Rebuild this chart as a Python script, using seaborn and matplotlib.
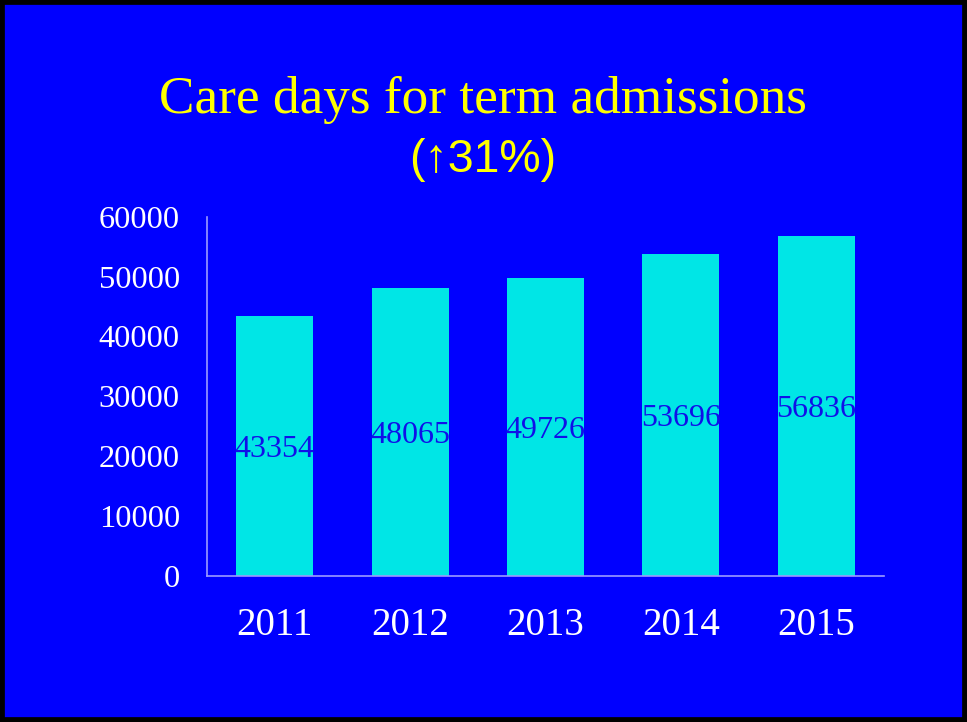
import matplotlib
matplotlib.use("Agg")
import matplotlib.pyplot as plt
import seaborn as sns
import pandas as pd
from matplotlib.patches import Rectangle

years = ["2011", "2012", "2013", "2014", "2015"]
care_days = [43354, 48065, 49726, 53696, 56836]
y_ticks = [0, 10000, 20000, 30000, 40000, 50000, 60000]
title_line1 = "Care days for term admissions"
title_line2 = "(↑31%)"

BG = "#0000FF"
BAR = "#00E6E6"
SPINE = "#9A9AFF"

sns.set_theme(style="white")
plt.rcParams["font.family"] = ["Liberation Serif", "DejaVu Serif"]

df = pd.DataFrame({"year": years, "days": care_days})

fig = plt.figure(figsize=(9.67, 7.22), dpi=100)
fig.patch.set_facecolor(BG)
ax = fig.add_axes([207 / 967, 1 - 576 / 722, (884 - 207) / 967, (576 - 216.7) / 722])
ax.set_facecolor(BG)

sns.barplot(data=df, x="year", y="days", color=BAR, width=0.57, ax=ax,
            saturation=1, edgecolor="none")

ax.set_xlim(-0.5, 4.5)
ax.set_ylim(0, 60000)
ax.set_yticks(y_ticks)
ax.set_yticklabels([str(v) for v in y_ticks], color="white", fontsize=23.3)
ax.tick_params(axis="y", length=0, pad=19.5)
ax.tick_params(axis="x", length=0, pad=22, labelsize=28, labelcolor="white")
ax.set_xlabel("")
ax.set_ylabel("")
for s in ["top", "right"]:
    ax.spines[s].set_visible(False)
for s in ["left", "bottom"]:
    ax.spines[s].set_color(SPINE)
    ax.spines[s].set_linewidth(1.2)

for cont in ax.containers:
    texts = ax.bar_label(cont, labels=[str(v) for v in care_days], label_type="center",
                         color="#1010E8", fontsize=23)
    for t in texts:
        t.set_va("center_baseline")

fig.text(483 / 967, 1 - 100 / 722, title_line1, ha="center", va="center",
         color="#FFFF00", fontsize=38.3)
fig.text(483 / 967, 1 - 160 / 722, title_line2, ha="center", va="center",
         color="#FFFF00", fontsize=33.5, family=["Liberation Sans", "DejaVu Sans"])

fig.patches.append(Rectangle((0, 0), 1, 1, transform=fig.transFigure, fill=False,
                             edgecolor="black", linewidth=7, zorder=10))

fig.savefig("out.png", dpi=100, facecolor=BG)
